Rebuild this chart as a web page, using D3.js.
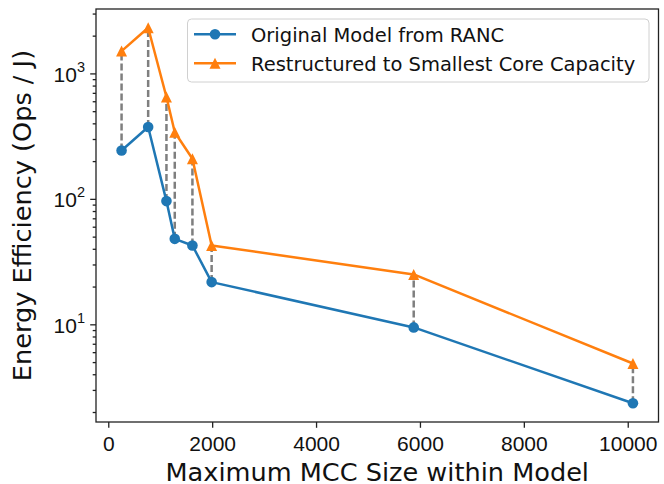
<!DOCTYPE html>
<html>
<head>
<meta charset="utf-8">
<script src="https://cdn.jsdelivr.net/npm/d3@7"></script>
<style>
  body { margin: 0; background: #fff; }
  svg { font-family: "DejaVu Sans", sans-serif; }
</style>
</head>
<body>
<svg id="chart" width="664" height="484"></svg>
<script>
// data
const mccSize = [256, 768, 1120, 1280, 1620, 1990, 5880, 10100];
const originalEff = [243, 374, 96, 48, 42.5, 21.7, 9.45, 2.35];
const restructuredEff = [1507, 2311, 649, 340, 209, 42.5, 25.0, 4.87];
const xTicks = [0, 2000, 4000, 6000, 8000, 10000];
const yTicks = [10, 100, 1000];
const seriesNames = ["Original Model from RANC", "Restructured to Smallest Core Capacity"];
const seriesColors = ["#1f77b4", "#ff7f0e"];

const margin = { top: 9, right: 5.5, bottom: 62, left: 96 };
const width = 664 - margin.left - margin.right;
const height = 484 - margin.top - margin.bottom;

const svg = d3.select("#chart");
const g = svg.append("g").attr("transform", `translate(${margin.left},${margin.top})`);

// matplotlib style 5% padding
let [xmin, xmax] = d3.extent(mccSize);
let xpad = (xmax - xmin) * 0.05;
let x = d3.scaleLinear().domain([xmin - xpad, xmax + xpad]).range([0, width]);

let allY = originalEff.concat(restructuredEff);
let [lmin, lmax] = d3.extent(allY).map(Math.log10);
let lpad = (lmax - lmin) * 0.05;
let y = d3.scaleLog().domain([10 ** (lmin - lpad), 10 ** (lmax + lpad)]).range([height, 0]);

// dashed connectors
g.append("g").selectAll("line")
    .data(mccSize)
    .enter()
    .append("line")
        .attr("x1", d => x(d)).attr("x2", d => x(d))
        .attr("y1", (d, i) => y(originalEff[i]))
        .attr("y2", (d, i) => y(restructuredEff[i]))
        .attr("stroke", "#7f7f7f")
        .attr("stroke-width", 2.5)
        .attr("stroke-dasharray", "7,3");

let line = d3.line().x(d => x(d[0])).y(d => y(d[1]));
let series = [originalEff, restructuredEff].map(vals => mccSize.map((m, i) => [m, vals[i]]));

let triangle = s => `M0,${-s}L${s},${s}L${-s},${s}Z`;

series.forEach((pts, k) => {
    g.append("path")
        .attr("d", line(pts))
        .attr("fill", "none")
        .attr("stroke", seriesColors[k])
        .attr("stroke-width", 2.5)
        .attr("stroke-linejoin", "round");
    let marks = g.append("g").selectAll("path")
        .data(pts)
        .enter()
        .append("path")
            .attr("transform", d => `translate(${x(d[0])},${y(d[1])})`)
            .attr("fill", seriesColors[k]);
    if (k === 0) marks.attr("d", d3.symbol().type(d3.symbolCircle).size(Math.PI * 5.3 * 5.3));
    else marks.attr("d", triangle(5.5));
});

// axes
let xAxis = d3.axisBottom(x).tickValues(xTicks).tickSize(5.8).tickPadding(4).tickFormat(d3.format("d"));
let gx = g.append("g").attr("transform", `translate(0,${height})`).call(xAxis);
gx.select(".domain").remove();
gx.selectAll("text").attr("font-size", 21).attr("fill", "#111").attr("dy", "0.9em");

let minor = [];
for (let p = 0; p <= 3; p++) for (let m = 2; m <= 9; m++) {
    let v = m * 10 ** p;
    if (v >= y.domain()[0] && v <= y.domain()[1]) minor.push(v);
}
let gyMinor = g.append("g").call(d3.axisLeft(y).tickValues(minor).tickSize(3.3).tickFormat(""));
gyMinor.select(".domain").remove();

let gy = g.append("g").call(d3.axisLeft(y).tickValues(yTicks).tickSize(5.8).tickPadding(5.8).tickFormat(""));
gy.select(".domain").remove();
gy.selectAll(".tick").append("text")
    .attr("x", -11)
    .attr("y", 8)
    .attr("text-anchor", "end")
    .attr("fill", "#111")
    .attr("font-size", 21)
    .each(function(d) {
        let t = d3.select(this);
        t.append("tspan").text("10");
        t.append("tspan").attr("font-size", 14.5).attr("dy", -10).text(Math.round(Math.log10(d)));
    });
g.selectAll(".tick line").attr("stroke", "#222").attr("stroke-width", 1.3);

// frame
g.append("rect")
    .attr("width", width).attr("height", height)
    .attr("fill", "none").attr("stroke", "#222").attr("stroke-width", 1.3);

// axis labels
svg.append("text")
    .attr("x", margin.left + width / 2)
    .attr("y", 481)
    .attr("text-anchor", "middle")
    .attr("font-size", 25.6)
    .attr("fill", "#111")
    .text("Maximum MCC Size within Model");

svg.append("text")
    .attr("transform", `translate(31,${margin.top + height / 2}) rotate(-90)`)
    .attr("text-anchor", "middle")
    .attr("font-size", 25.6)
    .attr("fill", "#111")
    .text("Energy Efficiency (Ops / J)");

// legend
let legend = svg.append("g");
legend.append("rect")
    .attr("x", 187.5).attr("y", 19)
    .attr("width", 461.5).attr("height", 63)
    .attr("rx", 4)
    .attr("fill", "#fff").attr("fill-opacity", 0.8)
    .attr("stroke", "#d0d0d0").attr("stroke-width", 1);

seriesNames.forEach((name, k) => {
    let cy = 34.3 + k * 29;
    legend.append("line")
        .attr("x1", 194).attr("x2", 236)
        .attr("y1", cy).attr("y2", cy)
        .attr("stroke", seriesColors[k]).attr("stroke-width", 2.5);
    legend.append("path")
        .attr("transform", `translate(215,${cy})`)
        .attr("fill", seriesColors[k])
        .attr("d", k === 0 ? d3.symbol().type(d3.symbolCircle).size(Math.PI * 5.3 * 5.3)() : triangle(5.5));
    legend.append("text")
        .attr("x", 251).attr("y", cy + 7.2)
        .attr("font-size", 19.5)
        .attr("fill", "#111")
        .text(name);
});
</script>
</body>
</html>
